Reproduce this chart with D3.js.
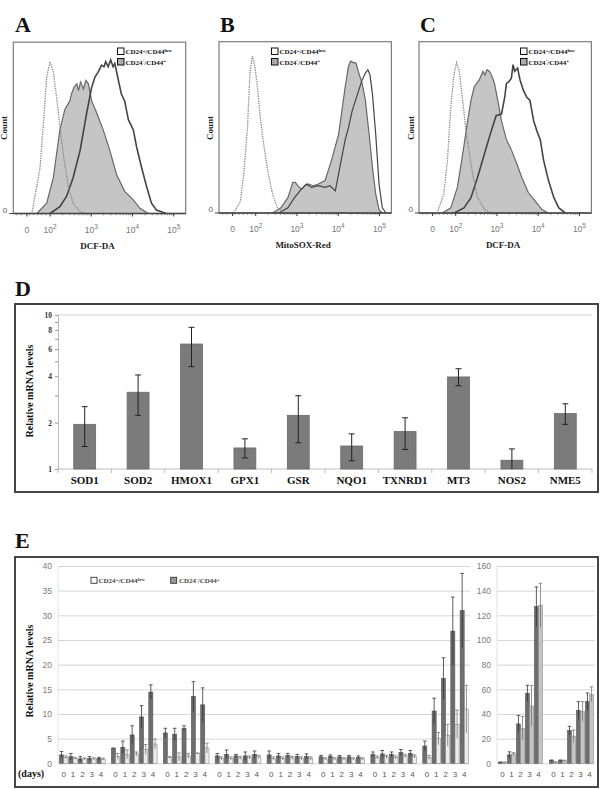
<!DOCTYPE html>
<html>
<head>
<meta charset="utf-8">
<script src="https://cdn.jsdelivr.net/npm/d3@7"></script>
<style>
  body { margin: 0; background: #fff; }
  svg { display: block; }
</style>
</head>
<body>
<div id="fig"></div>
<script>
// ---- A/B/C flow histograms: [log10 fluorescence, count as % of panel max]
const ctrlA = [[1.56,0],[1.76,27],[1.84,53],[1.92,80],[2.0,89],[2.08,83],[2.16,68],[2.24,51],[2.32,35],[2.44,16],[2.56,6],[2.73,1],[2.89,0]];
const lowA = [[2.0,0],[2.24,4],[2.40,10],[2.56,21],[2.73,37],[2.89,59],[3.01,74],[3.09,80],[3.17,83],[3.25,87],[3.31,86],[3.35,89],[3.41,86],[3.47,90],[3.53,86],[3.57,88],[3.65,79],[3.73,70],[3.81,66],[3.90,55],[4.02,49],[4.10,39],[4.22,27],[4.34,16],[4.46,6],[4.58,2],[4.82,0]];
const posA = [[1.68,0],[1.92,6],[2.08,21],[2.24,49],[2.36,61],[2.48,66],[2.52,70],[2.58,74],[2.65,76],[2.69,72],[2.74,77],[2.81,73],[2.87,78],[2.93,76],[3.01,66],[3.13,59],[3.29,49],[3.45,37],[3.61,23],[3.81,13],[4.02,8],[4.18,3],[4.38,0]];

const ctrlB = [[1.47,0],[1.63,7],[1.71,23],[1.80,50],[1.86,82],[1.92,92],[1.98,86],[2.04,74],[2.12,54],[2.20,39],[2.29,25],[2.41,11],[2.53,3],[2.70,0]];
const lowB = [[2.57,0],[2.78,3],[2.94,9],[3.11,14],[3.23,17],[3.35,15],[3.52,16],[3.68,15],[3.80,16],[3.93,13],[4.01,23],[4.09,33],[4.17,43],[4.25,50],[4.34,60],[4.42,66],[4.50,72],[4.58,78],[4.66,82],[4.72,84],[4.77,81],[4.83,70],[4.91,46],[4.99,17],[5.07,3],[5.16,0]];
const posB = [[2.41,0],[2.61,3],[2.78,9],[2.90,18],[2.96,18],[3.02,16],[3.11,14],[3.19,16],[3.27,17],[3.39,16],[3.52,17],[3.68,19],[3.76,25],[3.84,31],[3.93,39],[4.01,46],[4.09,60],[4.17,74],[4.25,86],[4.30,89],[4.38,88],[4.43,88],[4.50,82],[4.58,76],[4.66,66],[4.75,46],[4.83,27],[4.91,11],[4.99,2],[5.07,0]];

const ctrlC = [[1.55,0],[1.71,11],[1.80,31],[1.88,62],[1.96,82],[2.02,88],[2.08,84],[2.16,68],[2.25,48],[2.33,35],[2.41,23],[2.53,9],[2.70,2],[2.86,0]];
const lowC = [[1.96,0],[2.20,3],[2.37,9],[2.53,21],[2.70,35],[2.86,48],[2.98,57],[3.11,58],[3.19,68],[3.23,76],[3.29,77],[3.35,79],[3.39,87],[3.43,83],[3.50,85],[3.56,78],[3.64,72],[3.72,68],[3.80,66],[3.89,54],[3.97,48],[4.05,43],[4.13,31],[4.25,19],[4.38,9],[4.50,3],[4.66,0]];
const posC = [[1.67,0],[1.88,3],[2.04,15],[2.16,33],[2.29,54],[2.37,66],[2.45,74],[2.57,78],[2.66,83],[2.71,81],[2.76,84],[2.82,83],[2.88,80],[2.94,76],[3.02,66],[3.11,54],[3.23,43],[3.35,37],[3.48,29],[3.60,21],[3.76,12],[3.93,7],[4.09,2],[4.25,0]];

const histTickVals = [1.44, 2, 3, 4, 5];
const histTickExp = ["", "2", "3", "4", "5"];
const histTitles = ["DCF-DA", "MitoSOX-Red", "DCF-DA"];

// ---- D: relative mRNA levels (log scale)
const genes = ["SOD1","SOD2","HMOX1","GPX1","GSR","NQO1","TXNRD1","MT3","NOS2","NME5"];
const geneMean = [1.95, 3.15, 6.48, 1.37, 2.23, 1.41, 1.75, 3.96, 1.14, 2.29];
const geneLow  = [1.40, 2.23, 4.62, 1.18, 1.48, 1.13, 1.34, 3.47, 1.00, 1.95];
const geneHigh = [2.54, 4.08, 8.32, 1.57, 2.99, 1.69, 2.15, 4.48, 1.35, 2.65];
const dTicks = [1,2,3,4,5,6,7,8,9,10];
const dTickLabels = [1,2,4,6,8,10];

// ---- E: time course (days 0-4), CD24-/CD44+ (dark) vs CD24+/CD44low (light)
const days = ["0","1","2","3","4"];
const leftGroups = [1,2,3,4,5,6,7,8];
const leftPos = [[1.7,1.35,0.9,1.0,0.95],[3.0,3.25,5.75,9.4,14.45],[6.15,5.9,7.1,13.55,11.85],[1.5,1.8,1.5,1.5,1.8],[1.7,1.5,1.6,1.4,1.4],[1.3,1.4,1.3,1.3,1.2],[1.8,1.9,1.8,2.2,2.0],[3.5,10.6,17.2,26.8,31.0]];
const leftPosErr = [[0.7,0.65,0.45,0.35,0.25],[0.1,1.25,1.85,2.3,1.45],[0.95,1.2,0.5,3.0,3.45],[0.5,0.9,0.3,0.8,0.7],[0.8,0.5,0.4,0.4,0.5],[0.3,0.3,0.3,0.3,0.3],[0.5,0.7,0.5,0.6,0.6],[1.0,2.6,4.2,6.9,7.5]];
const leftLow = [[1.2,1.0,0.9,0.9,0.85],[1.4,1.8,1.9,2.8,3.9],[1.2,1.3,1.5,2.0,3.1],[1.0,1.0,1.1,1.2,1.3],[1.0,1.0,1.1,1.0,1.0],[0.9,0.9,0.9,0.9,0.9],[1.2,1.3,1.2,1.5,1.4],[1.2,5.0,5.7,7.9,11.0]];
const leftLowErr = [[0.3,0.2,0.2,0.2,0.2],[0.6,0.9,0.4,1.0,1.0],[0.2,0.8,0.5,0.1,1.0],[0.3,0.3,0.3,0.3,0.3],[0.3,0.3,0.3,0.3,0.3],[0.2,0.2,0.2,0.2,0.2],[0.3,0.3,0.3,0.3,0.3],[0.4,1.25,2.2,2.9,4.8]];
const rightGroups = [1,2];
const rightPos = [[0.8,6.8,31.9,56.8,127],[2.2,2.2,26.5,43,50]];
const rightPosErr = [[0.3,2.5,7,6.5,16],[0.5,0.5,3.5,7,7]];
const rightLow = [[0.8,7.6,28.4,46.5,128],[1.0,2.0,22,42,56]];
const rightLowErr = [[0.3,1,9.5,16.5,18],[0.3,0.5,5,8,6]];
const leftTicks = [0,5,10,15,20,25,30,35,40];
const rightTicks = [0,20,40,60,80,100,120,140,160];

const serif = "'Liberation Serif','Times New Roman',serif";
const sans = "'Liberation Sans',Arial,sans-serif";

const svg = d3.select("#fig").append("svg").attr("width", 606).attr("height", 789);
svg.append("rect").attr("width", 606).attr("height", 789).attr("fill", "#fff");

// panel letters
[["A",15,32],["B",220,32],["C",420,32],["D",15,296],["E",15,548]].forEach(([t,x,y]) => {
    svg.append("text").attr("x", x).attr("y", y).text(t)
        .attr("font-family", serif).attr("font-weight", "bold").attr("font-size", 22).attr("fill", "#111");
});

// legend entry with superscripts
function legendText(g, x, y, parts, size, color) {
    const t = g.append("text").attr("x", x).attr("y", y)
        .attr("font-family", serif).attr("font-weight", "bold").attr("font-size", size).attr("fill", color);
    let shift = 0;
    parts.forEach(([s, sup]) => {
        const ts = t.append("tspan").text(s);
        if (sup) {
            ts.attr("dy", -size * 0.35 - shift).attr("font-size", size * 0.7);
            shift = -size * 0.35;
        } else {
            if (shift) ts.attr("dy", -shift);
            shift = 0;
        }
    });
}
const lowParts = [["CD24"],["+",1],["/CD44"],["low",1]];
const posParts = [["CD24"],["-",1],["/CD44"],["+",1]];

// ---------- A, B, C ----------
function drawHist(cfg) {
    const g = svg.append("g");
    const w = 172.4, h = 170.6;
    const x = d3.scaleLinear().domain([1.11, 5.29]).range([cfg.x0, cfg.x0 + w]);
    const y = d3.scaleLinear().domain([0, 100]).range([cfg.y1, cfg.y1 - h]);

    g.append("rect").attr("x", cfg.x0).attr("y", cfg.y1 - h - 0.7).attr("width", w).attr("height", h + 0.7)
        .attr("fill", "none").attr("stroke", "#7d7d7d").attr("stroke-width", 1.2);

    const area = d3.area().x(d => x(d[0])).y0(y(0)).y1(d => y(d[1]));
    const line = d3.line().x(d => x(d[0])).y(d => y(d[1]));
    g.append("path").datum(cfg.pos).attr("d", area)
        .attr("fill", "#c5c5c5").attr("stroke", "#686868").attr("stroke-width", 1.2);
    g.append("path").datum(cfg.low).attr("d", line)
        .attr("fill", "none").attr("stroke", "#444").attr("stroke-width", cfg.lw);
    g.append("path").datum(cfg.ctrl).attr("d", line)
        .attr("fill", "none").attr("stroke", "#858585").attr("stroke-width", 1.3).attr("stroke-dasharray", "1.3,1.1");

    // bottom axis
    g.append("line").attr("x1", cfg.x0).attr("x2", cfg.x0 + w).attr("y1", cfg.y1).attr("y2", cfg.y1)
        .attr("stroke", "#444").attr("stroke-width", 1.3);
    const minor = [];
    for (let d = 2; d < 5; d++) for (let k = 2; k < 10; k++) minor.push(d + Math.log10(k));
    [1.2,1.3,1.5,1.6,1.7,1.8,1.9].forEach(v => minor.push(v));
    g.selectAll(".mn").data(minor).join("line")
        .attr("x1", d => x(d)).attr("x2", d => x(d)).attr("y1", cfg.y1).attr("y2", cfg.y1 + 1.8)
        .attr("stroke", "#555").attr("stroke-width", 0.7);
    g.selectAll(".mj").data(histTickVals).join("line")
        .attr("x1", d => x(d)).attr("x2", d => x(d)).attr("y1", cfg.y1).attr("y2", cfg.y1 + 3)
        .attr("stroke", "#333").attr("stroke-width", 1);
    histTickVals.forEach((v, i) => {
        const t = g.append("text").attr("x", x(v)).attr("y", cfg.y1 + 19).attr("text-anchor", "middle")
            .attr("font-family", sans).attr("font-size", 8.5).attr("fill", "#777");
        if (histTickExp[i] === "") t.text("0");
        else {
            t.append("tspan").text("10");
            t.append("tspan").attr("dy", -4).attr("font-size", 6.5).text(histTickExp[i]);
        }
    });
    g.append("text").attr("x", x(3.15)).attr("y", cfg.y1 + 35).attr("text-anchor", "middle")
        .attr("font-family", serif).attr("font-weight", "bold").attr("font-size", 9).attr("fill", "#222")
        .text(cfg.title);

    // y axis "0" + Count
    g.append("line").attr("x1", cfg.x0 - 4).attr("x2", cfg.x0).attr("y1", cfg.y1).attr("y2", cfg.y1)
        .attr("stroke", "#444");
    g.append("text").attr("x", cfg.x0 - 6).attr("y", cfg.y1 - 1).attr("text-anchor", "end")
        .attr("font-family", sans).attr("font-size", 8).attr("fill", "#555").text("0");
    g.append("text").attr("transform", `translate(${cfg.x0 - cfg.cntOff},128) rotate(-90)`)
        .attr("text-anchor", "middle").attr("font-family", serif).attr("font-weight", "bold")
        .attr("font-size", 9).attr("fill", "#222").text("Count");

    // legend
    const lx = cfg.lx;
    g.append("rect").attr("x", lx).attr("y", 48).attr("width", 6.5).attr("height", 6.5)
        .attr("fill", "#fff").attr("stroke", "#111").attr("stroke-width", 1);
    g.append("rect").attr("x", lx).attr("y", 58.5).attr("width", 6.5).attr("height", 6.5)
        .attr("fill", "#aaa").attr("stroke", "#111").attr("stroke-width", 1);
    legendText(g, lx + 8, 54, lowParts, 7, "#111");
    legendText(g, lx + 8, 64.5, posParts, 7, "#111");
}
drawHist({x0: 13.3, y1: 213.5, pos: posA, low: lowA, ctrl: ctrlA, title: histTitles[0], lx: 117.5, cntOff: 6, lw: 1.6});
drawHist({x0: 219, y1: 213, pos: posB, low: lowB, ctrl: ctrlB, title: histTitles[1], lx: 271.5, cntOff: 6, lw: 1.2});
drawHist({x0: 419, y1: 213, pos: posC, low: lowC, ctrl: ctrlC, title: histTitles[2], lx: 520.5, cntOff: 5, lw: 1.6});

// ---------- D ----------
{
    const g = svg.append("g");
    g.append("rect").attr("x", 15).attr("y", 304).attr("width", 583).attr("height", 188)
        .attr("fill", "#fff").attr("stroke", "#444").attr("stroke-width", 2);
    const x = d3.scaleBand().domain(genes).range([58, 592]).paddingInner(0.59).paddingOuter(0.295);
    const y = d3.scaleLog().domain([1, 10]).range([469, 315]);

    g.append("line").attr("x1", 58).attr("x2", 592).attr("y1", y(10)).attr("y2", y(10))
        .attr("stroke", "#cfcfcf").attr("stroke-width", 1);
    const ax = g.append("g").attr("transform", "translate(58,0)")
        .call(d3.axisLeft(y).tickValues(dTicks).tickSize(3).tickPadding(3)
            .tickFormat(d => dTickLabels.includes(d) ? d : ""));
    ax.select(".domain").attr("stroke", "#bbb");
    ax.selectAll(".tick line").attr("stroke", "#999");
    ax.selectAll(".tick").filter(d => !dTickLabels.includes(d)).select("text").remove();
    ax.selectAll("text").attr("font-family", serif).attr("font-weight", "bold").attr("font-size", 7.5).attr("fill", "#333");

    const bx = g.append("g").attr("transform", "translate(0,469)");
    bx.append("line").attr("x1", 58).attr("x2", 592).attr("stroke", "#bbb");
    const bounds = genes.map((d, i) => 58 + x.step() * i).concat([592]);
    bx.selectAll(".bt").data(bounds).join("line")
        .attr("x1", d => d).attr("x2", d => d).attr("y1", 0).attr("y2", 4).attr("stroke", "#bbb");

    g.selectAll(".bar").data(genes).join("rect")
        .attr("x", d => x(d)).attr("width", x.bandwidth())
        .attr("y", (d, i) => y(geneMean[i])).attr("height", (d, i) => y(1) - y(geneMean[i]))
        .attr("fill", "#7b7b7b").attr("stroke", "#6a6a6a").attr("stroke-width", 0.8);

    genes.forEach((d, i) => {
        const cx = x(d) + x.bandwidth() / 2;
        g.append("line").attr("x1", cx).attr("x2", cx).attr("y1", y(geneLow[i])).attr("y2", y(geneHigh[i]))
            .attr("stroke", "#222").attr("stroke-width", 1);
        [geneLow[i], geneHigh[i]].forEach(v => {
            if (v <= 1) return;
            g.append("line").attr("x1", cx - 3).attr("x2", cx + 3).attr("y1", y(v)).attr("y2", y(v))
                .attr("stroke", "#222").attr("stroke-width", 1);
        });
        g.append("text").attr("x", cx).attr("y", 484).attr("text-anchor", "middle")
            .attr("font-family", serif).attr("font-weight", "bold").attr("font-size", 11).attr("fill", "#111")
            .text(d);
    });
    g.append("text").attr("transform", "translate(33,391) rotate(-90)").attr("text-anchor", "middle")
        .attr("font-family", serif).attr("font-weight", "bold").attr("font-size", 10).attr("fill", "#111")
        .text("Relative mRNA levels");
}

// ---------- E ----------
{
    const g = svg.append("g");
    g.append("rect").attr("x", 15).attr("y", 557).attr("width", 583).attr("height", 230)
        .attr("fill", "#fff").attr("stroke", "#333").attr("stroke-width", 1.8);

    const yL = d3.scaleLinear().domain([0, 40]).range([763.3, 566]);
    const yR = d3.scaleLinear().domain([0, 160]).range([763.3, 566]);

    function grid(scale, ticks, x0, x1) {
        const a = g.append("g").attr("transform", `translate(${x0},0)`)
            .call(d3.axisLeft(scale).tickValues(ticks).tickSize(-(x1 - x0)).tickPadding(6));
        a.select(".domain").remove();
        a.selectAll(".tick line").attr("stroke", "#d6d6d6").attr("stroke-width", 1);
        a.selectAll("text").attr("font-family", sans).attr("font-size", 8.5).attr("fill", "#7a7a7a");
        g.append("line").attr("x1", x0).attr("x2", x0).attr("y1", scale.range()[1]).attr("y2", scale.range()[0])
            .attr("stroke", "#e2e2e2");
    }
    grid(yL, leftTicks, 58, 470);
    grid(yR, rightTicks, 497, 595);

    function bars(groups, pos, posErr, low, lowErr, y, x0, x1, pIn, lightFill) {
        const gx = d3.scaleBand().domain(groups).range([x0, x1]).paddingInner(pIn).paddingOuter(0.02);
        const dx = d3.scaleBand().domain(days).range([0, gx.bandwidth()]);
        const sx = d3.scaleBand().domain(["pos", "low"]).range([0, dx.bandwidth()]).paddingInner(0.05).paddingOuter(0.12);
        groups.forEach((grp, gi) => {
            days.forEach((day, di) => {
                const base = gx(grp) + dx(day);
                const series = [["pos", pos[gi][di], posErr[gi][di], "#6e6e6e", "#555", "#333"],
                                ["low", low[gi][di], lowErr[gi][di], lightFill, "#8c8c8c", "#777"]];
                series.forEach(([k, v, e, fill, stroke]) => {
                    g.append("rect").attr("x", base + sx(k)).attr("width", sx.bandwidth())
                        .attr("y", y(v)).attr("height", y(0) - y(v))
                        .attr("fill", fill).attr("stroke", stroke).attr("stroke-width", 0.6);
                });
                series.forEach(([k, v, e, , , ec]) => {
                    const cx = base + sx(k) + sx.bandwidth() / 2;
                    const lo = Math.max(0, v - e), hi = v + e;
                    g.append("line").attr("x1", cx).attr("x2", cx).attr("y1", y(lo)).attr("y2", y(hi))
                        .attr("stroke", ec).attr("stroke-width", 0.8);
                    g.append("line").attr("x1", cx - 1.8).attr("x2", cx + 1.8).attr("y1", y(hi)).attr("y2", y(hi))
                        .attr("stroke", ec).attr("stroke-width", 0.8);
                });
                g.append("text").attr("x", base + dx.bandwidth() / 2).attr("y", 777).attr("text-anchor", "middle")
                    .attr("font-family", sans).attr("font-size", 8).attr("fill", "#555").text(day);
            });
        });
    }
    bars(leftGroups, leftPos, leftPosErr, leftLow, leftLowErr, yL, 58, 470, 0.1, "#ececec");
    bars(rightGroups, rightPos, rightPosErr, rightLow, rightLowErr, yR, 497, 595, 0.12, "#c4c4c4");

    g.append("text").attr("x", 18).attr("y", 777).attr("font-family", serif).attr("font-weight", "bold")
        .attr("font-size", 10).attr("fill", "#111").text("(days)");
    g.append("text").attr("transform", "translate(33,671) rotate(-90)").attr("text-anchor", "middle")
        .attr("font-family", serif).attr("font-weight", "bold").attr("font-size", 10).attr("fill", "#111")
        .text("Relative mRNA levels");

    // legend
    g.append("rect").attr("x", 91).attr("y", 577.3).attr("width", 6).attr("height", 6)
        .attr("fill", "#fff").attr("stroke", "#333").attr("stroke-width", 0.9);
    legendText(g, 98.5, 583, lowParts, 7, "#444");
    g.append("rect").attr("x", 170.7).attr("y", 577.3).attr("width", 6).attr("height", 6)
        .attr("fill", "#9a9a9a").attr("stroke", "#333").attr("stroke-width", 0.9);
    legendText(g, 179, 583, posParts, 7, "#444");
}
</script>
</body>
</html>
